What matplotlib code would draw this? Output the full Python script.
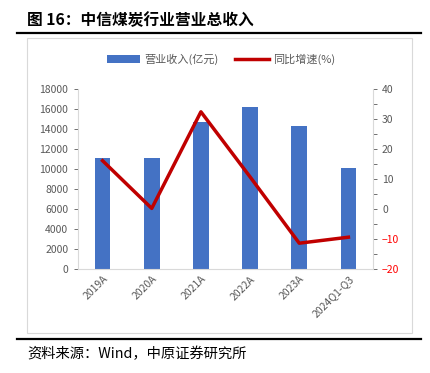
import numpy as np
import matplotlib.pyplot as plt
from matplotlib.patches import Rectangle
from matplotlib.lines import Line2D

plt.rcParams['font.family'] = ['Noto Sans CJK SC', 'DejaVu Sans']

# 数据
years = ['2019A', '2020A', '2021A', '2022A', '2023A', '2024Q1-Q3']
revenue = [11130, 11110, 14730, 16170, 14300, 10130]   # 营业收入(亿元)
yoy = [16.1, 0.2, 32.4, 10.7, -11.4, -9.4]            # 同比增速(%)

fig = plt.figure(figsize=(4.3, 3.73), dpi=100)
W, H = 430, 373

def fx(px):
    return px / W

def fy(py):
    return 1 - py / H

# 标题和分割线
fig.text(fx(27), fy(20), '图 16：中信煤炭行业营业总收入', fontsize=11.3, fontweight='bold',
         va='center', ha='left', color='black')
fig.add_artist(Line2D([fx(17), fx(421)], [fy(33), fy(33)], color='black', lw=1.6))
# 图表外框
fig.add_artist(Rectangle((fx(27), fy(333)), fx(412) - fx(27), fy(38) - fy(333),
                         fill=False, edgecolor='#d9d9d9', lw=0.8))
fig.add_artist(Line2D([fx(17), fx(421)], [fy(339), fy(339)], color='black', lw=1.6))
fig.text(fx(27), fy(354), '资料来源：Wind，中原证券研究所', fontsize=10.3,
         va='center', ha='left', color='black')

ax = fig.add_axes([fx(78), fy(269), fx(373) - fx(78), fy(89) - fy(269)])
x = np.arange(len(years))
ax.bar(x, revenue, width=0.32, color='#4472c4', label='营业收入(亿元)', zorder=2)
ax.set_xlim(-0.5, len(years) - 0.5)
ax.set_ylim(0, 18000)
ax.set_yticks(np.arange(0, 18001, 2000))
ax.set_xticks(x)
ax.set_xticklabels(years, rotation=45, ha='right', rotation_mode='anchor')
ax.tick_params(axis='y', labelsize=7.5, colors='#595959', length=3, width=0.6, pad=4)
ax.tick_params(axis='x', labelsize=7.5, colors='#595959', length=0)
for s in ['top', 'right']:
    ax.spines[s].set_visible(False)
for s in ['left', 'bottom']:
    ax.spines[s].set_color('#d9d9d9')

ax2 = ax.twinx()
ax2.plot(x, yoy, color='#c00000', lw=2.5, label='同比增速(%)', zorder=3)
ax2.set_ylim(-20, 40)
ax2.set_yticks(np.arange(-20, 41, 10))
ax2.set_yticks(np.arange(-20, 41, 5), minor=True)
ax2.tick_params(axis='y', which='both', labelsize=7.5, colors='#595959', length=3, width=0.6)
for lab, v in zip(ax2.get_yticklabels(), np.arange(-20, 41, 10)):
    if v < 0:
        lab.set_color('red')
for s in ['top', 'left', 'bottom']:
    ax2.spines[s].set_visible(False)
ax2.spines['right'].set_color('#d9d9d9')

h1, l1 = ax.get_legend_handles_labels()
h2, l2 = ax2.get_legend_handles_labels()
fig.legend(h1 + h2, l1 + l2, loc='center', bbox_to_anchor=(fx(221), fy(59)), ncol=2,
           frameon=False, fontsize=8, labelcolor='#595959', handlelength=3.0,
           columnspacing=1.5, handletextpad=0.4)

fig.savefig('out.png', dpi=100)
